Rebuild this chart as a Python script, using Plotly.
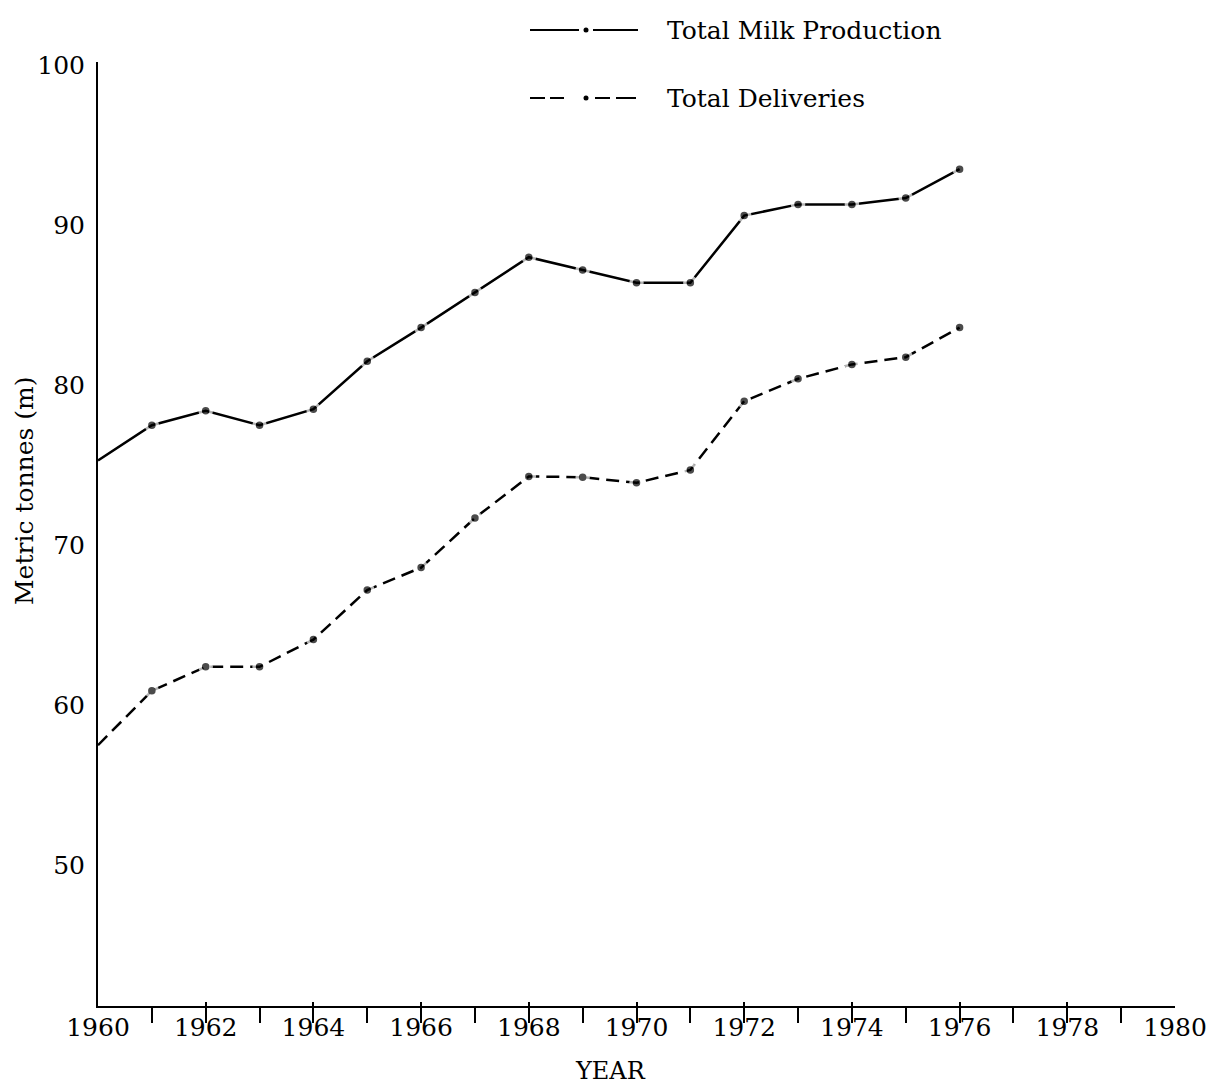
import plotly.graph_objects as go

years = list(range(1960, 1977))
production = [75.3, 77.5, 78.4, 77.5, 78.5, 81.5, 83.6, 85.8, 88.0, 87.2, 86.4, 86.4,
              90.6, 91.3, 91.3, 91.7, 93.5]
deliveries = [57.5, 60.9, 62.4, 62.4, 64.1, 67.2, 68.6, 71.7, 74.3, 74.25, 73.9, 74.7,
              79.0, 80.4, 81.3, 81.75, 83.6]
x_tick_vals = list(range(1960, 1981, 2))
y_tick_vals = [50, 60, 70, 80, 90, 100]
series_names = ["Total Milk Production", "Total Deliveries"]
y_title = "Metric tonnes (m)"
x_title = "YEAR"

FONT = "DejaVu Serif"
sizes = [0] + [11] * (len(years) - 1)

fig = go.Figure()
fig.add_trace(go.Scatter(
    x=years, y=production, mode="lines+markers", name=series_names[0],
    line=dict(color="black", width=2.5),
    marker=dict(size=sizes, color="black", line=dict(color="white", width=3.5)),
    cliponaxis=False, showlegend=False))
fig.add_trace(go.Scatter(
    x=years, y=deliveries, mode="lines+markers", name=series_names[1],
    line=dict(color="black", width=2.5, dash="13px,7px"),
    marker=dict(size=sizes, color="black", line=dict(color="white", width=3.5)),
    cliponaxis=False, showlegend=False))

# helpers to place legend keys / labels in paper coordinates
def px2paper_x(px):
    return (px - 98) / 1077.0

def px2paper_y(py):
    return 1 - (py - 62) / 944.0

shapes = []
y1 = px2paper_y(30)
shapes.append(dict(type="line", xref="paper", yref="paper", x0=px2paper_x(530), x1=px2paper_x(579),
                   y0=y1, y1=y1, line=dict(color="black", width=2)))
shapes.append(dict(type="line", xref="paper", yref="paper", x0=px2paper_x(593), x1=px2paper_x(638),
                   y0=y1, y1=y1, line=dict(color="black", width=2)))
y2 = px2paper_y(98)
for a, b in [(530, 545), (550, 564), (595, 610), (616, 636)]:
    shapes.append(dict(type="line", xref="paper", yref="paper", x0=px2paper_x(a), x1=px2paper_x(b),
                       y0=y2, y1=y2, line=dict(color="black", width=2)))
for yy in (30, 98):
    shapes.append(dict(type="circle", xref="paper", yref="paper",
                       x0=px2paper_x(583.5), x1=px2paper_x(588.5),
                       y0=px2paper_y(yy + 2.5), y1=px2paper_y(yy - 2.5),
                       fillcolor="black", line=dict(color="black", width=0)))

annotations = [
    dict(text=series_names[0], xref="paper", yref="paper", x=px2paper_x(665), y=y1,
         xanchor="left", yanchor="middle", showarrow=False, font=dict(family=FONT, size=25, color="black")),
    dict(text=series_names[1], xref="paper", yref="paper", x=px2paper_x(665), y=y2,
         xanchor="left", yanchor="middle", showarrow=False, font=dict(family=FONT, size=25, color="black")),
    dict(text=y_title, xref="paper", yref="paper", x=px2paper_x(25), y=px2paper_y(491),
         xanchor="center", yanchor="middle", textangle=-90, showarrow=False,
         font=dict(family=FONT, size=25, color="black")),
    dict(text=x_title, xref="paper", yref="paper", x=px2paper_x(610), y=px2paper_y(1086),
         xanchor="center", yanchor="bottom", showarrow=False, borderpad=0,
         font=dict(family=FONT, size=24, color="black")),
]

fig.update_layout(
    width=1207, height=1087,
    margin=dict(l=98, r=32, t=62, b=81),
    paper_bgcolor="white", plot_bgcolor="white",
    font=dict(family=FONT, size=25, color="black"),
    shapes=shapes, annotations=annotations,
    xaxis=dict(
        range=[1960, 1980], tickvals=x_tick_vals, ticktext=[str(v) for v in x_tick_vals],
        ticks="inside", ticklen=4, tickwidth=2, tickcolor="black",
        minor=dict(ticks="outside", ticklen=15, tickwidth=2, tickcolor="black", dtick=1, tick0=1961,
                   showgrid=False),
        showline=True, linecolor="black", linewidth=2, showgrid=False, zeroline=False,
        automargin=False, ticklabelstandoff=-2,
        tickfont=dict(family=FONT, size=25),
    ),
    yaxis=dict(
        range=[41.2, 100.2], tickvals=y_tick_vals, ticks="", ticklabelstandoff=6,
        showline=True, linecolor="black", linewidth=2, showgrid=False, zeroline=False,
        automargin=False,
        tickfont=dict(family=FONT, size=25),
    ),
)

fig.write_html(
    "out.html",
    config={"displayModeBar": False},
    post_script="document.body.style.margin='0';document.body.style.overflow='hidden';",
)
